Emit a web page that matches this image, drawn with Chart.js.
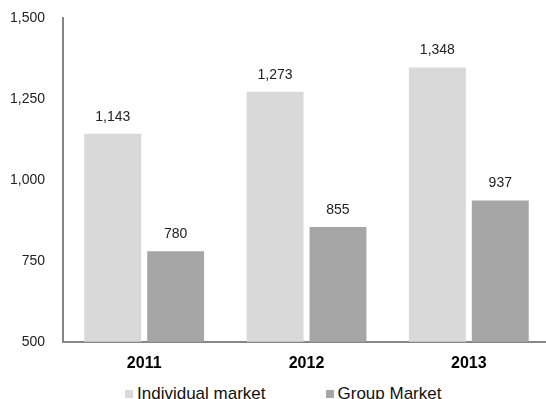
<!DOCTYPE html>
<html>
<head>
<meta charset="utf-8">
<script src="https://cdn.jsdelivr.net/npm/chart.js@4.4.1/dist/chart.umd.min.js"></script>
<style>
  body { margin: 0; background: #fff; overflow: hidden; }
  .wrap { position: relative; width: 546px; height: 399px; overflow: hidden; }
  #myChart { position: absolute; left: 0; top: 0; }
  .legend { position: absolute; top: 383px; left: 125px; font: 17px 'Liberation Sans', Arial, sans-serif; color: #111; white-space: nowrap; }
  .legend span { display: inline-block; vertical-align: middle; }
  .legend .box { width: 8px; height: 8px; margin-right: 4px; }
  .legend .item { margin-right: 60px; }
</style>
</head>
<body>
<div class="wrap">
  <canvas id="myChart" width="550" height="377"></canvas>
  <div class="legend">
    <span class="item"><span class="box" style="background:#d9d9d9"></span><span id="lg0"></span></span><span><span class="box" style="background:#a6a6a6"></span><span id="lg1"></span></span>
  </div>
</div>
<script>
// years on the x axis
var years = ['2011', '2012', '2013'];
// series
var individual = [1143, 1273, 1348];
var group = [780, 855, 937];
var seriesNames = ['Individual market', 'Group Market'];
// y axis ticks
var yTicks = [500, 750, 1000, 1250, 1500];

document.getElementById('lg0').textContent = seriesNames[0];
document.getElementById('lg1').textContent = seriesNames[1];

var fontFamily = "'Liberation Sans', Arial, sans-serif";

// value labels over each bar
var barValues = {
    id: 'barValues',
    afterDatasetsDraw: function(chart) {
        var ctx = chart.ctx;
        ctx.save();
        ctx.font = '14px ' + fontFamily;
        ctx.fillStyle = '#222';
        ctx.textAlign = 'center';
        ctx.textBaseline = 'bottom';
        chart.data.datasets.forEach(function(ds, i) {
            chart.getDatasetMeta(i).data.forEach(function(bar, j) {
                ctx.fillText(ds.data[j].toLocaleString('en-US'), bar.x, bar.y - 10);
            });
        });
        ctx.restore();
    }
};

var ctx = document.getElementById('myChart').getContext('2d');
var chart = new Chart(ctx, {
    type: 'bar',
    data: {
        labels: years,
        datasets: [{
            label: seriesNames[0],
            backgroundColor: '#d9d9d9',
            data: individual,
            categoryPercentage: 0.775,
            barPercentage: 0.905
        },
        {
            label: seriesNames[1],
            backgroundColor: '#a6a6a6',
            data: group,
            categoryPercentage: 0.775,
            barPercentage: 0.905
        }]
    },
    plugins: [barValues],
    options: {
        responsive: false,
        devicePixelRatio: 1,
        animation: false,
        layout: { padding: { top: 15, left: 0, right: 0, bottom: 0 } },
        plugins: {
            legend: { display: false },
            tooltip: { enabled: false }
        },
        scales: {
            x: {
                grid: { display: false },
                border: { color: '#868686', width: 2 },
                ticks: { color: '#000', padding: 4, font: { family: fontFamily, size: 16, weight: 'bold' } }
            },
            y: {
                min: yTicks[0],
                max: yTicks[yTicks.length - 1],
                afterBuildTicks: function(axis) {
                    axis.ticks = yTicks.map(function(v) { return { value: v }; });
                },
                grid: { display: false },
                border: { color: '#868686', width: 2 },
                ticks: {
                    color: '#222',
                    padding: 10,
                    font: { family: fontFamily, size: 14 },
                    callback: function(v) { return v.toLocaleString('en-US'); }
                }
            }
        }
    }
});
</script>
</body>
</html>
